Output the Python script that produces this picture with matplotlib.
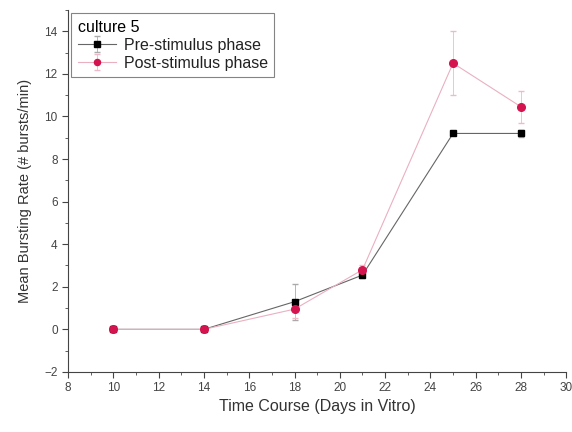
import numpy as np
import matplotlib
matplotlib.use("Agg")
import matplotlib.pyplot as plt
from matplotlib.ticker import MultipleLocator

plt.rcParams['font.family'] = ['Liberation Sans', 'DejaVu Sans']

days = [10, 14, 18, 21, 25, 28]
pre_rate = [0.0, 0.0, 1.3, 2.55, 9.2, 9.2]
pre_err = [0.0, 0.0, 0.85, 0.15, 0.0, 0.15]
post_rate = [0.0, 0.0, 0.95, 2.8, 12.5, 10.45]
post_err = [0.0, 0.0, 0.4, 0.2, 1.5, 0.75]

red = '#d4144e'

fig = plt.figure(figsize=(5.72, 4.32), dpi=100)
ax = fig.add_axes([0.119, 0.139, 0.871, 0.838])

ax.errorbar(days, pre_rate, yerr=pre_err, color='#666666', lw=0.8,
            marker='s', ms=5, mfc='black', mec='black', capsize=2,
            elinewidth=0.6, ecolor='#aaaaaa', label='Pre-stimulus phase')
ax.errorbar(days, post_rate, yerr=post_err, color='#eab0c0', lw=0.8,
            marker='o', ms=5.5, mfc=red, mec=red, capsize=2,
            elinewidth=0.6, ecolor='#f0b8c8', label='Post-stimulus phase')

ax.set_xlim(8, 30)
ax.set_ylim(-2, 15)
ax.xaxis.set_major_locator(MultipleLocator(2))
ax.xaxis.set_minor_locator(MultipleLocator(1))
ax.yaxis.set_major_locator(MultipleLocator(2))
ax.yaxis.set_minor_locator(MultipleLocator(1))
ax.tick_params(which='both', direction='out', labelsize=8.5, colors='#444444')
ax.tick_params(which='major', length=4)
ax.tick_params(which='minor', length=2)
for s in ['top', 'right']:
    ax.spines[s].set_visible(False)
for s in ['left', 'bottom']:
    ax.spines[s].set_color('#444444')

ax.set_xlabel('Time Course (Days in Vitro)', fontsize=11.5, color='#333333',
              labelpad=3)
ax.set_ylabel('Mean Bursting Rate (# bursts/min)', fontsize=10.5,
              color='#333333', labelpad=9)

leg = ax.legend(title='culture 5', loc='upper left', fontsize=11.5,
                title_fontsize=11.5, frameon=True, fancybox=False,
                borderaxespad=0.2, handlelength=2.4, handletextpad=0.5,
                labelspacing=0.2, borderpad=0.4, alignment='left',
                markerscale=0.8)
leg.get_frame().set_edgecolor('#666666')
leg.get_frame().set_linewidth(0.8)
for t in leg.get_texts():
    t.set_color('#222222')

fig.savefig('out.png', dpi=100)
